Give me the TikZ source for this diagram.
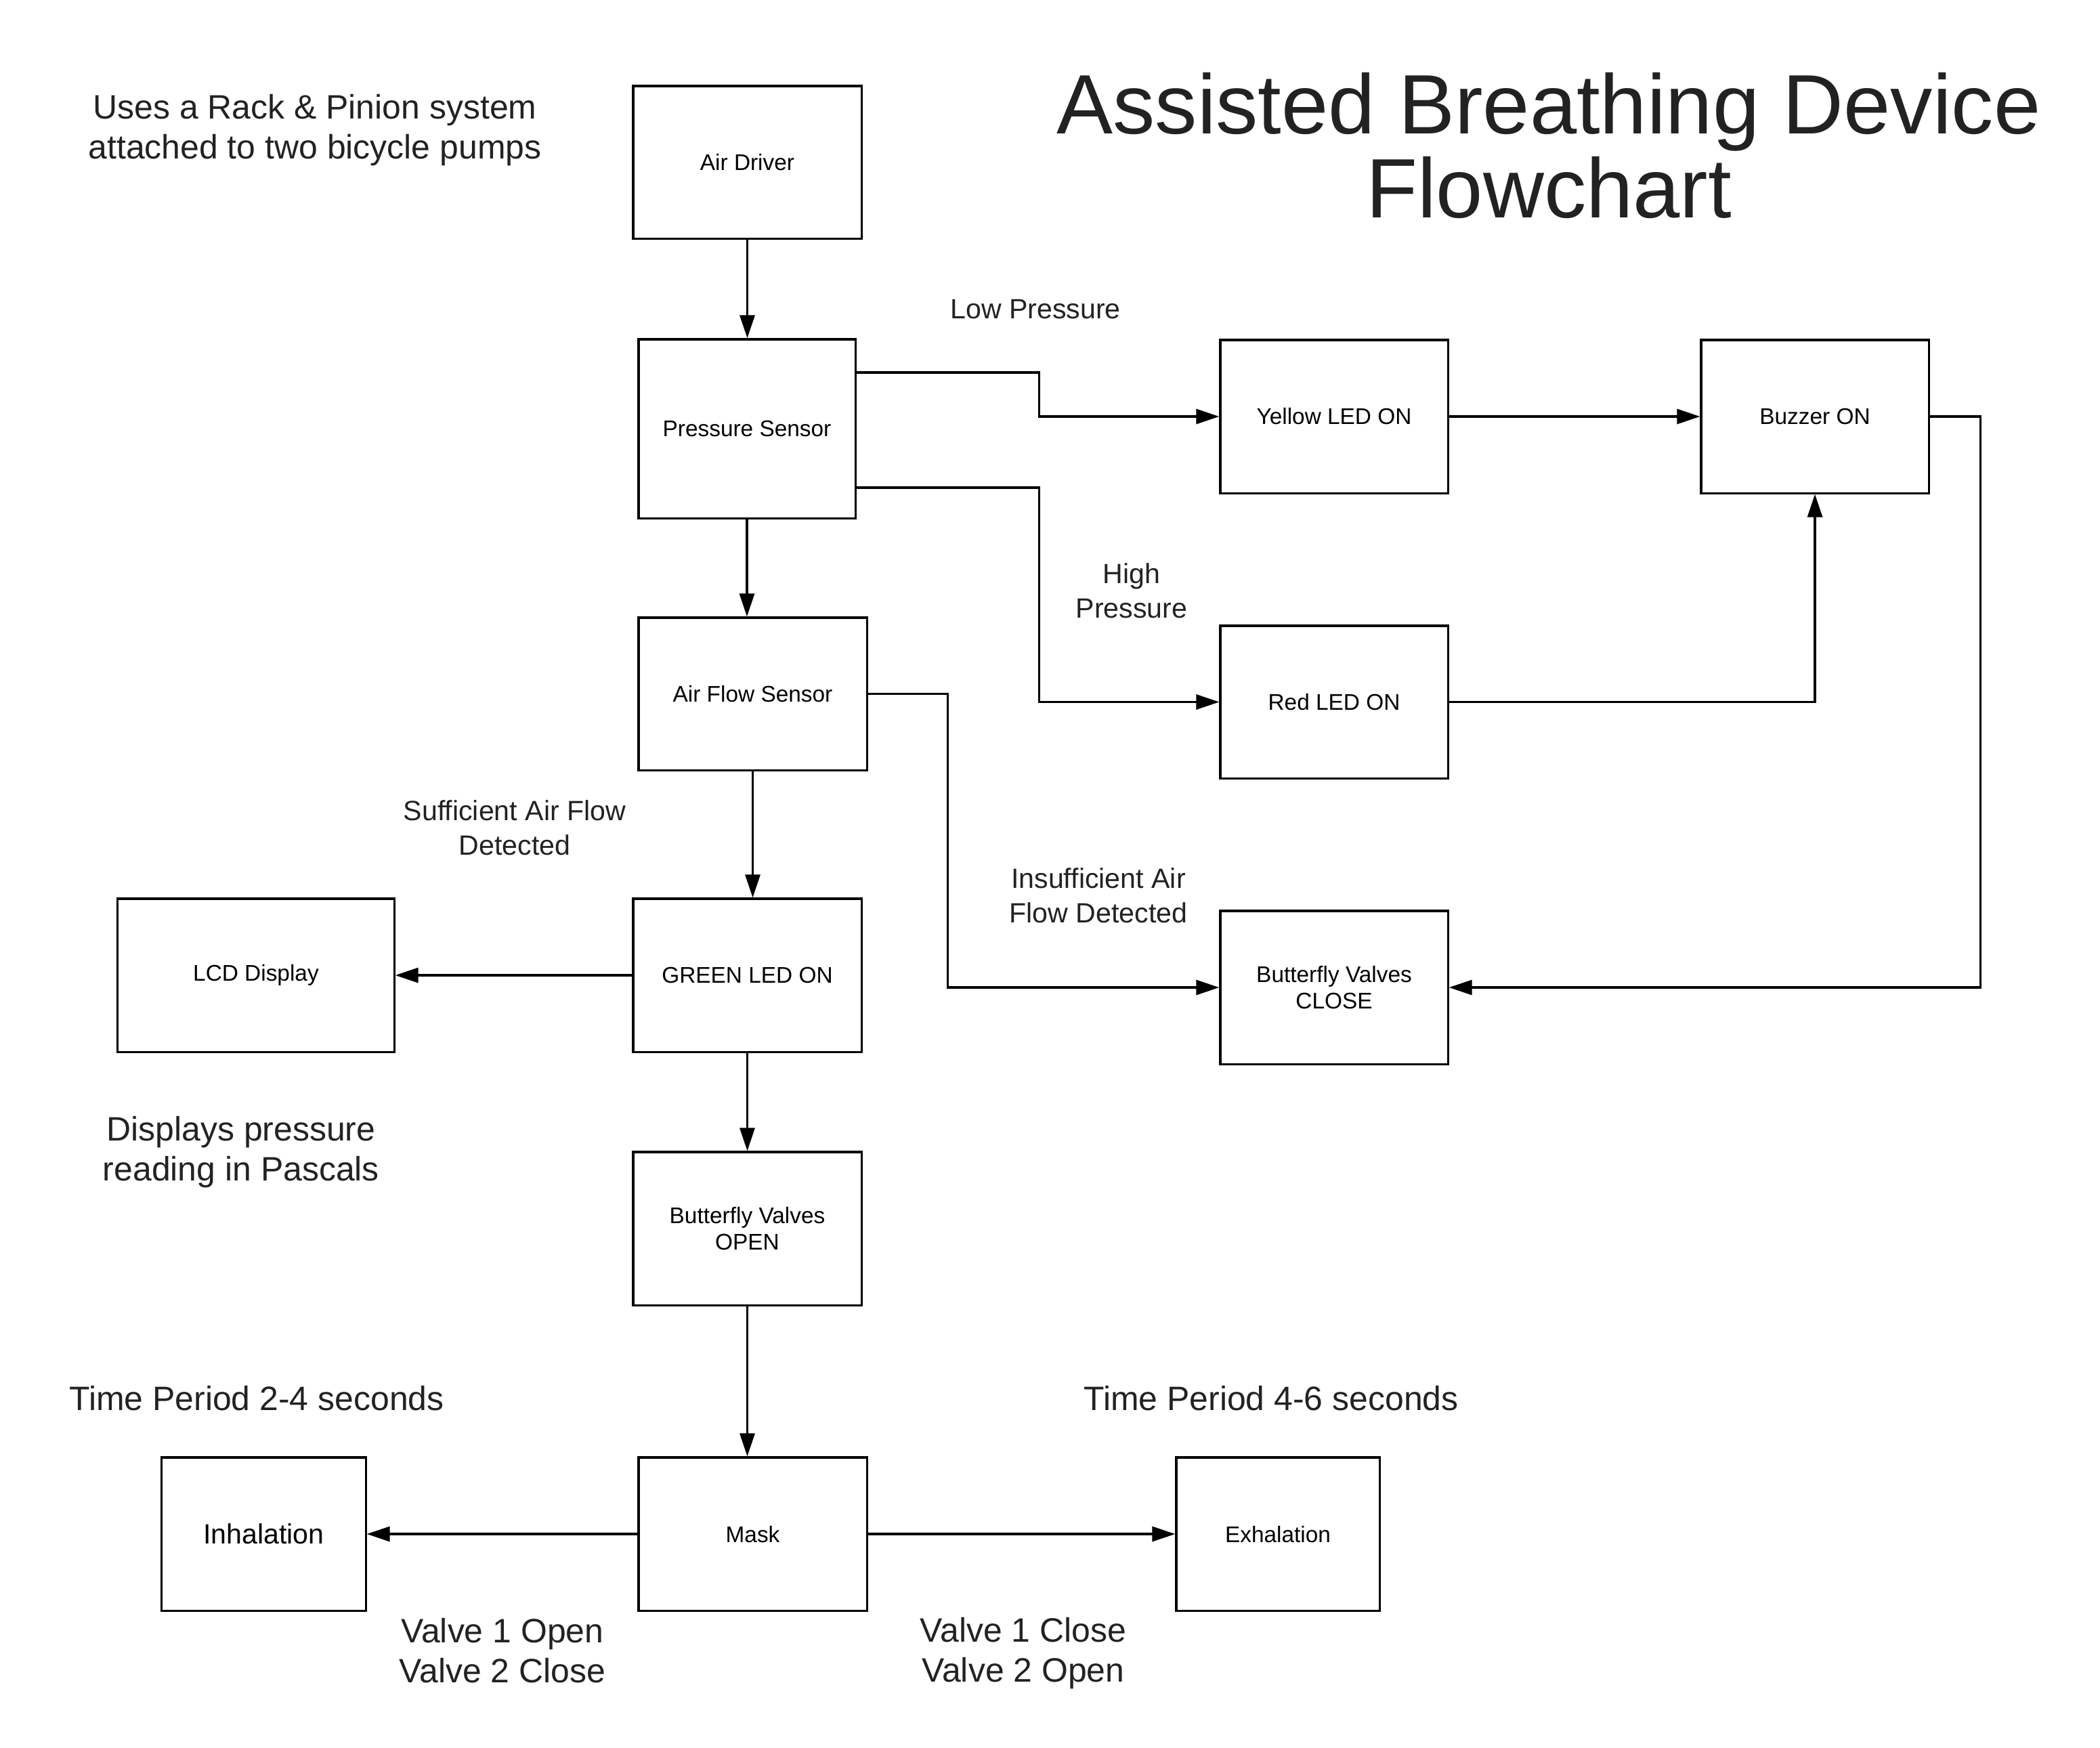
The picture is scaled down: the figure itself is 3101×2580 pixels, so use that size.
\documentclass[tikz,border=0pt]{standalone}
\usepackage{fontspec}
\setmainfont{Liberation Sans}
\usetikzlibrary{arrows.meta}
\definecolor{ink}{HTML}{222222}
\begin{document}
\begin{tikzpicture}[x=0.01cm,y=-0.01cm,
  box/.style={draw, line width=0.9pt, inner sep=2pt, align=center, font=\fontsize{9.5}{11.3}\selectfont},
  arr/.style={line width=0.9pt, -{Triangle[length=0.34cm,width=0.22cm]}},
  lab/.style={align=center, text=ink, font=\fontsize{14.2}{16.8}\selectfont},
  mlab/.style={align=center, text=ink, font=\fontsize{11.7}{14.6}\selectfont}]
\fill[white] (0,0) rectangle (3101,2580);
\useasboundingbox (0,0) rectangle (3101,2580);
% boxes
\node[box, minimum width=3.37cm, minimum height=2.25cm] (air) at (1103.5,239.5) {Air Driver};
\node[box, minimum width=3.20cm, minimum height=2.64cm] (pres) at (1103,633) {Pressure Sensor};
\node[box, minimum width=3.37cm, minimum height=2.25cm] (flow) at (1111.5,1024.5) {Air Flow Sensor};
\node[box, minimum width=3.37cm, minimum height=2.26cm] (green) at (1103.5,1440) {GREEN LED ON};
\node[box, minimum width=4.08cm, minimum height=2.26cm] (lcd) at (378,1440) {LCD Display};
\node[box, minimum width=3.37cm, minimum height=2.26cm] (open) at (1103.5,1814) {Butterfly Valves\\OPEN};
\node[box, minimum width=3.37cm, minimum height=2.26cm] (mask) at (1111.5,2265) {Mask};
\node[box, minimum width=3.01cm, minimum height=2.26cm, font=\fontsize{11.7}{14.6}\selectfont] (inh) at (389.5,2265) {Inhalation};
\node[box, minimum width=3.00cm, minimum height=2.26cm] (exh) at (1887,2265) {Exhalation};
\node[box, minimum width=3.36cm, minimum height=2.26cm] (yel) at (1970,615) {Yellow LED ON};
\node[box, minimum width=3.36cm, minimum height=2.26cm] (buz) at (2680,615) {Buzzer ON};
\node[box, minimum width=3.36cm, minimum height=2.25cm] (red) at (1970,1036.5) {Red LED ON};
\node[box, minimum width=3.36cm, minimum height=2.26cm] (close) at (1970,1458) {Butterfly Valves\\CLOSE};
% connectors
\draw[arr] (air.south) -- (air.south |- pres.north);
\draw[arr] ([yshift=0.83cm]pres.east) -- ++(270,0) |- (yel.west);
\draw[arr] ([yshift=-0.87cm]pres.east) -- ++(270,0) |- (red.west);
\draw[arr] (pres.south) -- (pres.south |- flow.north);
\draw[arr] (flow.south) -- (flow.south |- green.north);
\draw[arr] (flow.east) -- ++(118,0) |- (close.west);
\draw[arr] (yel.east) -- (buz.west);
\draw[arr] (red.east) -| (buz.south);
\draw[arr] (buz.east) -- ++(75,0) |- (close.east);
\draw[arr] (green.west) -- (lcd.east);
\draw[arr] (green.south) -- (green.south |- open.north);
\draw[arr] (open.south) -- (open.south |- mask.north);
\draw[arr] (mask.west) -- (inh.east);
\draw[arr] (mask.east) -- (exh.west);
% labels
\node[lab] (tRack) at (465,192) {Uses a Rack \& Pinion system\\attached to two bicycle pumps};
\node[align=center, text=ink, font=\fontsize{35.4}{35.5}\selectfont] (title) at (2287,215) {Assisted Breathing Device\\Flowchart};
\node[mlab] (tLow) at (1529,457) {Low Pressure};
\node[mlab] (tHigh) at (1671,872) {High\\Pressure};
\node[mlab] (tSuff) at (760,1222) {Sufficient Air Flow\\Detected};
\node[mlab] (tIns) at (1622,1322) {Insufficient Air\\Flow Detected};
\node[lab] (tDisp) at (356,1701) {Displays pressure\\reading in Pascals};
\node[lab] (tT1) at (379,2065) {Time Period 2-4 seconds};
\node[lab] (tT2) at (1877,2065) {Time Period 4-6 seconds};
\node[lab] (tV1) at (742,2437) {Valve 1 Open\\Valve 2 Close};
\node[lab] (tV2) at (1511,2441) {Valve 1 Close\\Valve 2 Open};
\end{tikzpicture}
\end{document}
